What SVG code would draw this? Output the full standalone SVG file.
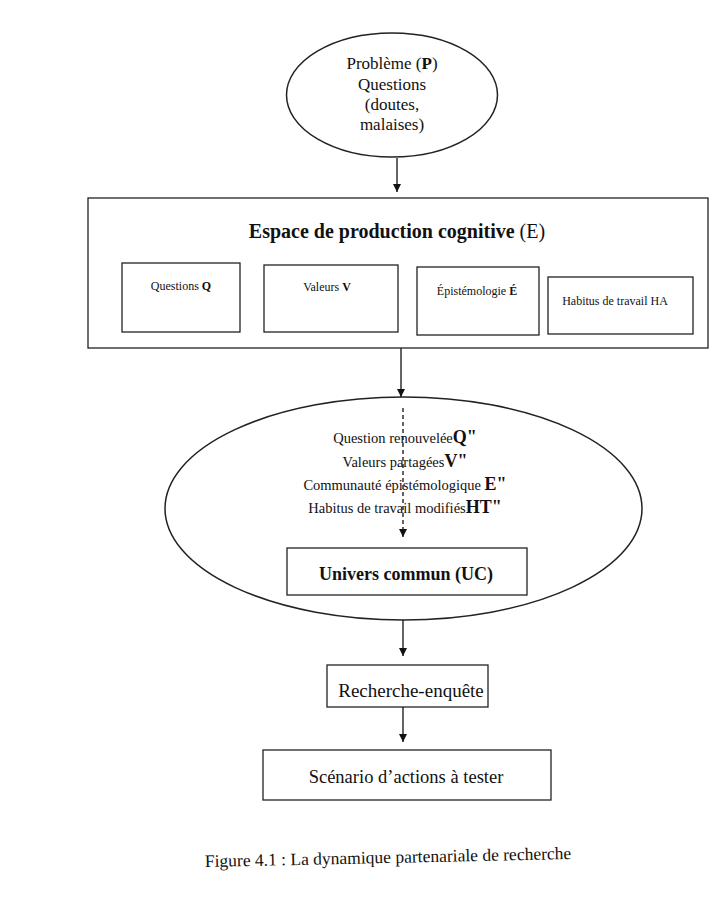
<svg xmlns="http://www.w3.org/2000/svg" width="726" height="904" viewBox="0 0 726 904">
<defs>
<style>
text{font-family:"Liberation Serif","Times New Roman",serif;fill:#111}
.b{font-weight:bold}
.shape{fill:none;stroke:#222;stroke-width:1.5}
.box{fill:#fff;stroke:#222;stroke-width:1.3}
.conn{stroke:#111;stroke-width:1.3;fill:none}
.m{text-anchor:middle}
</style>
<marker id="ah" viewBox="0 0 10 10" refX="10" refY="5" markerWidth="8" markerHeight="8" markerUnits="userSpaceOnUse" orient="auto">
<path d="M0,0 L10,5 L0,10 z" fill="#111"/>
</marker>
</defs>
<rect width="726" height="904" fill="#fff"/>

<g id="probleme">
<ellipse class="shape" cx="392" cy="95" rx="105.5" ry="62"/>
<text class="m" x="392" y="69" font-size="17">Problème (<tspan class="b">P</tspan>)</text>
<text class="m" x="392" y="90" font-size="17">Questions</text>
<text class="m" x="392" y="110" font-size="17">(doutes,</text>
<text class="m" x="392" y="130" font-size="17">malaises)</text>
</g>

<g id="espace">
<rect class="box" x="88" y="198" width="620" height="150" stroke-width="1.6"/>
<text class="m b" x="397" y="238" font-size="20">Espace de production cognitive <tspan font-weight="normal">(E)</tspan></text>
</g>
<g id="questions">
<rect class="box" x="122" y="263" width="118" height="69"/>
<text class="m" x="181" y="290" font-size="12">Questions <tspan class="b">Q</tspan></text>
</g>
<g id="valeurs">
<rect class="box" x="264" y="265" width="134" height="67"/>
<text class="m" x="327" y="291" font-size="12">Valeurs <tspan class="b">V</tspan></text>
</g>
<g id="epistemologie">
<rect class="box" x="417" y="267" width="122" height="68"/>
<text class="m" x="477" y="295" font-size="12">Épistémologie <tspan class="b">É</tspan></text>
</g>
<g id="habitus">
<rect class="box" x="548" y="277" width="145" height="57"/>
<text class="m" x="615" y="305" font-size="12">Habitus de travail HA</text>
</g>

<g id="univers-ellipse">
<ellipse class="shape" cx="403.5" cy="508.5" rx="238.5" ry="111.5"/>
<text class="m" x="405" y="443" font-size="14.5">Question renouvelée<tspan class="b" font-size="18">Q"</tspan></text>
<text class="m" x="405" y="467" font-size="14.5">Valeurs partagées<tspan class="b" font-size="18">V"</tspan></text>
<text class="m" x="405" y="490" font-size="14.5">Communauté épistémologique <tspan class="b" font-size="18">E"</tspan></text>
<text class="m" x="405" y="513" font-size="14.5">Habitus de travail modifiés<tspan class="b" font-size="18">HT"</tspan></text>
</g>

<g id="univers-commun">
<rect class="box" x="287" y="548" width="240" height="47"/>
<text class="m b" x="406" y="580" font-size="18">Univers commun (UC)</text>
</g>

<g id="recherche">
<rect class="box" x="327" y="665" width="161" height="42"/>
<text class="m" x="411" y="697" font-size="19">Recherche-enquête</text>
</g>

<g id="scenario">
<rect class="box" x="263" y="750" width="288" height="50"/>
<text class="m" x="406" y="783" font-size="18.5">Scénario d’actions à tester</text>
</g>

<g id="connectors">
<line class="conn" x1="397" y1="158" x2="397" y2="192" marker-end="url(#ah)"/>
<line class="conn" x1="401" y1="348" x2="401" y2="397" marker-end="url(#ah)"/>
<line class="conn" x1="403" y1="408" x2="403" y2="537" stroke-dasharray="4,3" marker-end="url(#ah)"/>
<line class="conn" x1="403" y1="620" x2="403" y2="656" marker-end="url(#ah)"/>
<line class="conn" x1="403" y1="707" x2="403" y2="742" marker-end="url(#ah)"/>
</g>

<text x="205" y="867" font-size="17.5" transform="rotate(-1.25 205 867)">Figure 4.1 : La dynamique partenariale de recherche</text>
</svg>
